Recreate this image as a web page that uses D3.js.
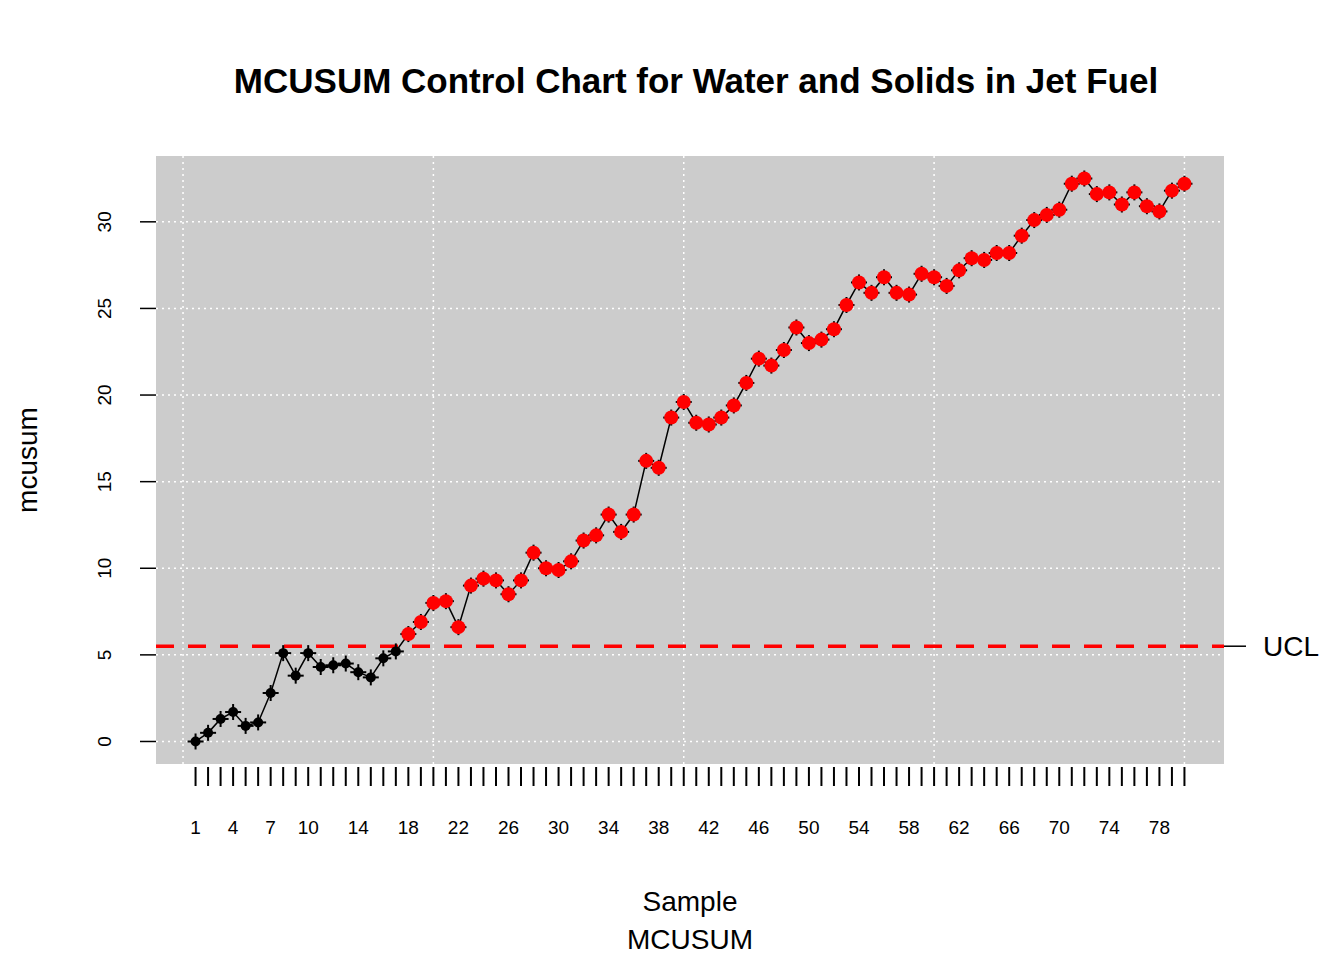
<!DOCTYPE html>
<html lang="en">
<head>
  <meta charset="UTF-8" />
  <title>MCUSUM Control Chart</title>
  <style>
    body { margin: 0; background: #fff; font-family: Arial, "Liberation Sans", sans-serif; }
  </style>
  <script src="https://d3js.org/d3.v7.min.js"></script>
</head>
<body>
  <svg width="1344" height="960"></svg>
  <script>
    const mcusum = [0.0, 0.5, 1.3, 1.7, 0.9, 1.1, 2.8, 5.1, 3.8, 5.1,
      4.3, 4.4, 4.5, 4.0, 3.7, 4.8, 5.2, 6.2, 6.9, 8.0,
      8.1, 6.6, 9.0, 9.4, 9.3, 8.5, 9.3, 10.9, 10.0, 9.9,
      10.4, 11.6, 11.9, 13.1, 12.1, 13.1, 16.2, 15.8, 18.7, 19.6,
      18.4, 18.3, 18.7, 19.4, 20.7, 22.1, 21.7, 22.6, 23.9, 23.0,
      23.2, 23.8, 25.2, 26.5, 25.9, 26.8, 25.9, 25.8, 27.0, 26.8,
      26.3, 27.2, 27.9, 27.8, 28.2, 28.2, 29.2, 30.1, 30.4, 30.7,
      32.2, 32.5, 31.6, 31.7, 31.0, 31.7, 30.9, 30.6, 31.8, 32.2];
    const ucl = 5.5;
    const xLabels = [1, 4, 7, 10, 14, 18, 22, 26, 30, 34, 38, 42, 46, 50, 54, 58, 62, 66, 70, 74, 78];
    const yTicks = [0, 5, 10, 15, 20, 25, 30];
    const xGrid = [0, 20, 40, 60, 80];

    const data = mcusum.map((v, i) => ({ s: i + 1, v }));
    const svg = d3.select("svg");
    const L = 156, R = 1224, T = 156, B = 764;
    const x = d3.scaleLinear().domain([-2.16, 83.16]).range([L, R]);
    const y = d3.scaleLinear().domain([-1.3, 33.8]).range([B, T]);

    svg.append("rect").attr("x", L).attr("y", T).attr("width", R - L).attr("height", B - T).attr("fill", "#cccccc");

    // grid
    const grid = svg.append("g").attr("stroke", "#fff").attr("stroke-width", 1.5).attr("stroke-dasharray", "2,4");
    grid.selectAll("line.v").data(xGrid).join("line").attr("class", "v")
      .attr("x1", d => x(d)).attr("x2", d => x(d)).attr("y1", T).attr("y2", B);
    grid.selectAll("line.h").data(yTicks).join("line").attr("class", "h")
      .attr("x1", L).attr("x2", R).attr("y1", d => y(d)).attr("y2", d => y(d));

    // y axis
    const ya = svg.append("g");
    ya.selectAll("line").data(yTicks).join("line")
      .attr("x1", 140).attr("x2", 156).attr("y1", d => y(d)).attr("y2", d => y(d))
      .attr("stroke", "#000").attr("stroke-width", 1.5);
    ya.selectAll("text").data(yTicks).join("text")
      .attr("transform", d => `translate(111,${y(d)}) rotate(-90)`)
      .attr("text-anchor", "middle").attr("font-size", 19).text(d => d);

    // x axis ticks
    svg.append("g").selectAll("line").data(data).join("line")
      .attr("x1", d => x(d.s)).attr("x2", d => x(d.s)).attr("y1", 767).attr("y2", 786)
      .attr("stroke", "#000").attr("stroke-width", 2);
    svg.append("g").selectAll("text").data(xLabels).join("text")
      .attr("x", d => x(d)).attr("y", 834).attr("text-anchor", "middle").attr("font-size", 19).text(d => d);

    // UCL
    svg.append("line").attr("x1", L).attr("x2", R).attr("y1", y(ucl)).attr("y2", y(ucl))
      .attr("stroke", "#ff0000").attr("stroke-width", 3.5).attr("stroke-dasharray", "18,14");
    svg.append("line").attr("x1", R).attr("x2", 1246).attr("y1", y(ucl)).attr("y2", y(ucl))
      .attr("stroke", "#000").attr("stroke-width", 1.5);
    svg.append("text").attr("x", 1263).attr("y", y(ucl) + 10).attr("font-size", 28).text("UCL");

    // line
    svg.append("path").datum(data)
      .attr("d", d3.line().x(d => x(d.s)).y(d => y(d.v)))
      .attr("fill", "none").attr("stroke", "#000").attr("stroke-width", 1.5);

    // cross markers
    const cr = svg.append("g").attr("stroke", "#000").attr("stroke-width", 2);
    cr.selectAll("line.a").data(data).join("line").attr("class", "a")
      .attr("x1", d => x(d.s) - 8).attr("x2", d => x(d.s) + 8).attr("y1", d => y(d.v)).attr("y2", d => y(d.v));
    cr.selectAll("line.b").data(data).join("line").attr("class", "b")
      .attr("x1", d => x(d.s)).attr("x2", d => x(d.s)).attr("y1", d => y(d.v) - 8).attr("y2", d => y(d.v) + 8);

    svg.append("g").selectAll("circle").data(data).join("circle")
      .attr("cx", d => x(d.s)).attr("cy", d => y(d.v))
      .attr("r", d => d.v > ucl ? 7 : 5)
      .attr("fill", d => d.v > ucl ? "#ff0000" : "#000");

    // titles
    svg.append("text").attr("x", 696).attr("y", 93).attr("text-anchor", "middle")
      .attr("font-size", 35).attr("font-weight", "bold").text("MCUSUM Control Chart for Water and Solids in Jet Fuel");
    svg.append("text").attr("x", 690).attr("y", 911).attr("text-anchor", "middle").attr("font-size", 28).text("Sample");
    svg.append("text").attr("x", 690).attr("y", 949).attr("text-anchor", "middle").attr("font-size", 28).text("MCUSUM");
    svg.append("text").attr("transform", "translate(37,460) rotate(-90)").attr("text-anchor", "middle")
      .attr("font-size", 28).text("mcusum");
  </script>
</body>
</html>
